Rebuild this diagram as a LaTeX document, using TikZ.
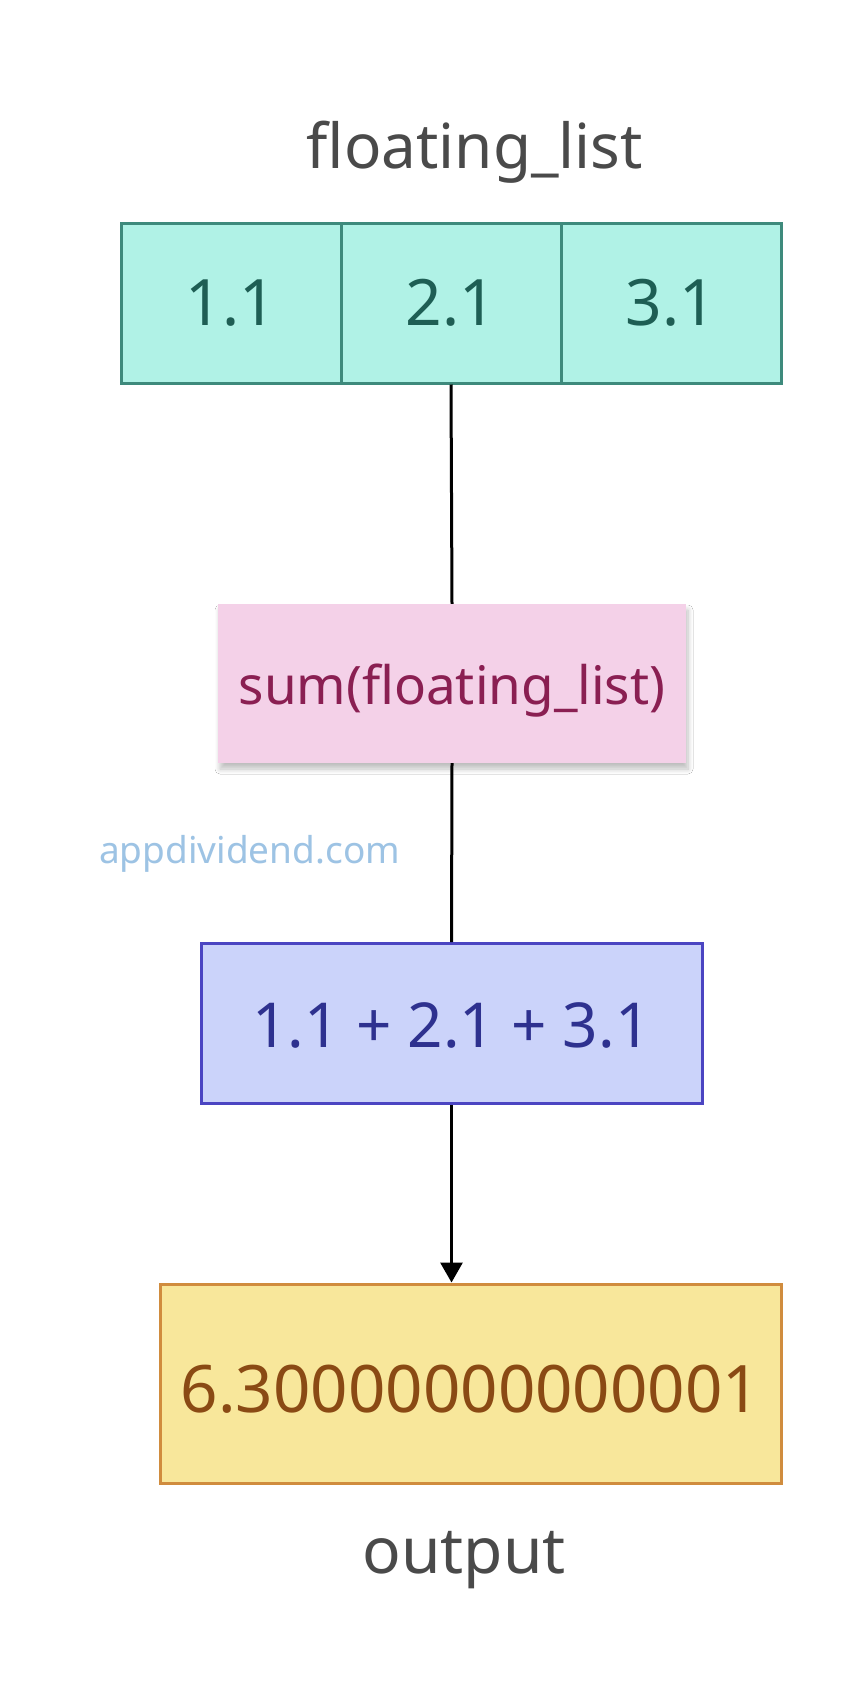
\documentclass[tikz,border=0pt]{standalone}
\usepackage{fontspec}
\setmainfont{Noto Sans}
\usetikzlibrary{arrows.meta,shadows.blur}
\definecolor{cellfill}{HTML}{B0F2E6}
\definecolor{celldraw}{HTML}{3E8A7C}
\definecolor{celltext}{HTML}{1E5E54}
\definecolor{pinkfill}{HTML}{F4D1E8}
\definecolor{pinktext}{HTML}{8A1F52}
\definecolor{bluefill}{HTML}{CBD3FA}
\definecolor{bluedraw}{HTML}{4B45C2}
\definecolor{bluetext}{HTML}{2E318F}
\definecolor{yelfill}{HTML}{F8E79B}
\definecolor{yeldraw}{HTML}{D08C3E}
\definecolor{yeltext}{HTML}{8A4A14}
\definecolor{labeltext}{HTML}{4A4A4A}
\definecolor{wmark}{HTML}{9DC3E4}
\tikzset{
  cellbox/.style={draw=celldraw, line width=3pt, fill=cellfill, text=celltext,
    minimum width=220pt, minimum height=160pt, inner sep=0pt,
    font=\fontsize{64}{64}\selectfont},
  pinkbox/.style={fill=pinkfill, text=pinktext, minimum width=468pt, minimum height=159pt,
    inner sep=0pt, font=\fontsize{53}{53}\selectfont, text height=52pt, text depth=10pt,
    blur shadow={shadow blur steps=8, shadow opacity=25, shadow xshift=2pt, shadow yshift=-6pt, shadow blur radius=5pt}},
  bluebox/.style={draw=bluedraw, line width=3pt, fill=bluefill, text=bluetext,
    minimum width=501pt, minimum height=160pt, inner sep=0pt,
    font=\fontsize{62}{62}\selectfont, text height=48pt, text depth=0pt},
  yelbox/.style={draw=yeldraw, line width=3pt, fill=yelfill, text=yeltext,
    minimum width=621pt, minimum height=199pt, inner sep=0pt,
    font=\fontsize{65.5}{65.5}\selectfont, text height=57pt, text depth=0pt},
  lbl/.style={text=labeltext, inner sep=0pt, font=\fontsize{62}{62}\selectfont},
  conn/.style={line width=3pt, black}
}
\begin{document}
\begin{tikzpicture}[x=1pt,y=-1pt]
\fill[white] (0,0) rectangle (862,1691);
\useasboundingbox (0,0) rectangle (862,1691);
% title
\node[lbl, anchor=base] (title) at (475,168) {floating\_list};
% cells
\node[cellbox] (c1) at (231,303) {1.1};
\node[cellbox] (c2) at (451,303) {2.1};
\node[cellbox] (c3) at (671,303) {3.1};
% boxes
\node[pinkbox] (sum) at (452,683.5) {sum(floating\_list)};
\node[bluebox] (add) at (451.5,1023.5) {1.1 + 2.1 + 3.1};
\node[yelbox] (out) at (470.5,1383.5) {6.30000000000001};
\node[lbl, anchor=base, font=\fontsize{64}{64}\selectfont] (outlbl) at (464,1573) {output};
% watermark
\node[text=wmark, anchor=base west, inner sep=0pt, font=\fontsize{37}{37}\selectfont] (wm) at (99,863) {appdividend.com};
% connectors
\draw[conn] (c2.south) -- (sum.north);
\draw[conn] (sum.south) -- (add.north);
\draw[conn, -{Triangle[length=20pt,width=22pt]}] (add.south) -- (add.south |- out.north);
\end{tikzpicture}
\end{document}
